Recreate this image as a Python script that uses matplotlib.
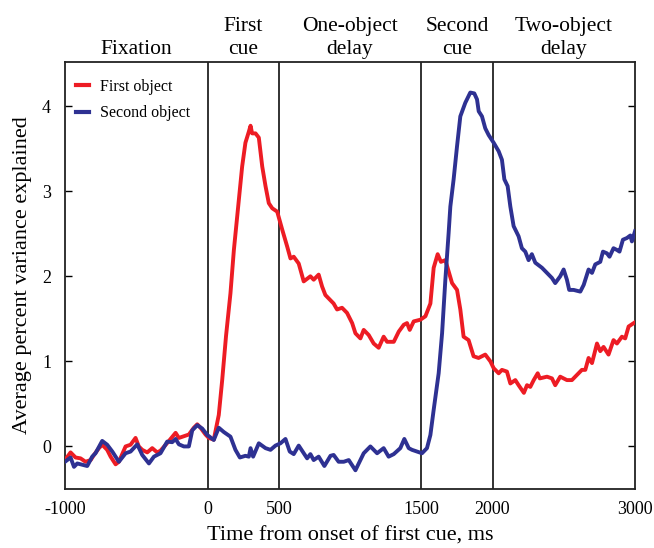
import numpy as np
import matplotlib
matplotlib.use('Agg')
import matplotlib.pyplot as plt
import matplotlib.transforms as mtransforms

# values
red_t = [-1000, -961, -926, -891, -856, -820, -797, -762, -739, -704, -680, -645, -622,
         -575, -540, -505, -482, -458, -423, -388, -353, -330, -283, -224, -201, -166,
         -131, -96, -72, -49, -14, 9, 44, 79, 103, 130, 161, 185, 220, 243, 266, 290,
         302, 313, 337, 360, 384, 407, 430, 454, 489, 524, 559, 582, 605, 640, 675, 722,
         745, 780, 804, 827, 885, 909, 944, 979, 1015, 1038, 1073, 1096, 1131, 1166,
         1201, 1236, 1260, 1307, 1342, 1377, 1400, 1419, 1447, 1494, 1529, 1564, 1587,
         1615, 1638, 1669, 1716, 1751, 1774, 1797, 1832, 1867, 1902, 1949, 1985, 2008,
         2043, 2066, 2101, 2125, 2160, 2183, 2220, 2242, 2265, 2289, 2317, 2332, 2382,
         2417, 2440, 2475, 2522, 2557, 2592, 2627, 2651, 2674, 2698, 2733, 2756, 2779,
         2814, 2849, 2873, 2908, 2931, 2955, 2990, 3000]
red_v = [-0.16, -0.07, -0.13, -0.14, -0.18, -0.16, -0.10, -0.02, 0.02, -0.04, -0.12, -0.21,
         -0.18, 0.0, 0.02, 0.10, 0.0, -0.04, -0.07, -0.02, -0.07, -0.05, 0.04, 0.16, 0.10,
         0.12, 0.14, 0.22, 0.26, 0.22, 0.14, 0.10, 0.08, 0.37, 0.78, 1.30, 1.80, 2.31, 2.90,
         3.29, 3.57, 3.70, 3.77, 3.68, 3.68, 3.63, 3.29, 3.06, 2.86, 2.80, 2.76, 2.55, 2.35,
         2.21, 2.23, 2.15, 1.94, 2.00, 1.96, 2.02, 1.88, 1.78, 1.68, 1.61, 1.63, 1.57, 1.45,
         1.33, 1.27, 1.37, 1.31, 1.21, 1.16, 1.29, 1.23, 1.23, 1.35, 1.43, 1.45, 1.37, 1.47,
         1.49, 1.53, 1.68, 2.10, 2.26, 2.17, 2.19, 1.92, 1.84, 1.61, 1.29, 1.25, 1.06, 1.04,
         1.08, 1.00, 0.92, 0.86, 0.90, 0.88, 0.74, 0.78, 0.72, 0.63, 0.72, 0.70, 0.78, 0.86,
         0.80, 0.82, 0.80, 0.72, 0.82, 0.78, 0.78, 0.84, 0.90, 0.90, 1.04, 0.98, 1.21, 1.12,
         1.17, 1.08, 1.25, 1.21, 1.29, 1.27, 1.41, 1.45, 1.46]

blue_t = [-1000, -961, -937, -914, -844, -809, -786, -739, -704, -668, -622, -575, -540,
          -493, -458, -411, -376, -330, -283, -248, -224, -201, -166, -131, -107, -72, -37,
          -2, 44, 79, 114, 161, 196, 227, 266, 290, 302, 320, 360, 407, 442, 477, 512, 547,
          577, 605, 640, 675, 699, 722, 745, 780, 820, 863, 885, 920, 956, 991, 1038, 1073,
          1096, 1143, 1190, 1236, 1271, 1307, 1353, 1381, 1412, 1435, 1470, 1505, 1540,
          1564, 1587, 1622, 1646, 1669, 1692, 1704, 1727, 1751, 1774, 1809, 1844, 1872,
          1891, 1903, 1926, 1949, 1973, 2008, 2043, 2066, 2083, 2106, 2125, 2148, 2183,
          2206, 2230, 2253, 2276, 2300, 2347, 2382, 2417, 2440, 2475, 2499, 2522, 2538,
          2569, 2616, 2640, 2674, 2698, 2721, 2756, 2775, 2803, 2821, 2849, 2873, 2891,
          2915, 2943, 2967, 2978, 3000]
blue_v = [-0.18, -0.13, -0.24, -0.20, -0.23, -0.12, -0.08, 0.065, 0.02, -0.06, -0.18, -0.08,
          -0.06, 0.025, -0.10, -0.20, -0.12, -0.08, 0.057, 0.05, 0.088, 0.025, 0.0, 0.0, 0.19,
          0.25, 0.21, 0.135, 0.076, 0.22, 0.17, 0.115, -0.04, -0.13, -0.11, -0.12, -0.02,
          -0.12, 0.037, -0.02, -0.04, 0.01, 0.037, 0.088, -0.06, -0.09, 0.01, -0.08, -0.14,
          -0.09, -0.16, -0.12, -0.23, -0.11, -0.10, -0.18, -0.18, -0.16, -0.28, -0.16, -0.08,
          0.0, -0.08, -0.02, -0.12, -0.09, -0.02, 0.088, -0.02, -0.04, -0.06, -0.08, -0.02,
          0.135, 0.43, 0.86, 1.33, 1.96, 2.51, 2.82, 3.14, 3.53, 3.88, 4.04, 4.16, 4.15, 4.08,
          3.94, 3.88, 3.74, 3.66, 3.57, 3.47, 3.37, 3.14, 3.06, 2.82, 2.59, 2.47, 2.33, 2.29,
          2.19, 2.26, 2.16, 2.10, 2.04, 1.98, 1.92, 2.00, 2.08, 1.96, 1.84, 1.84, 1.82, 1.90,
          2.08, 2.04, 2.14, 2.17, 2.29, 2.27, 2.23, 2.33, 2.31, 2.29, 2.43, 2.45, 2.48, 2.41,
          2.53]

epoch_edges = [0, 500, 1500, 2000]
epoch_names = ['Fixation', 'First\ncue', 'One-object\ndelay', 'Second\ncue', 'Two-object\ndelay']
epoch_centers = [-500, 250, 1000, 1750, 2500]
xticks = [-1000, 0, 500, 1500, 2000, 3000]
xtick_labels = ['-1000', '0', '500', '1500', '2000', '3000']
yticks = [0, 1, 2, 3, 4]

plt.rcParams['font.family'] = ['Liberation Serif', 'DejaVu Serif']

fig = plt.figure(figsize=(6.54, 5.48), dpi=100)
ax = fig.add_axes([0.0994, 0.1077, 0.8716, 0.7793])

red = '#ed1c24'
blue = '#2e3192'
ax.plot(red_t, red_v, color=red, lw=2.8, label='First object', zorder=3,
        solid_joinstyle='round')
ax.plot(blue_t, blue_v, color=blue, lw=2.8, label='Second object', zorder=3,
        solid_joinstyle='round')

for e in epoch_edges:
    ax.axvline(e, color='#222222', lw=1.3, zorder=2)

ax.set_xlim(-1000, 3000)
ax.set_ylim(-0.5, 4.52)
ax.set_xticks(xticks)
ax.set_xticklabels(xtick_labels)
ax.set_yticks(yticks)
ax.tick_params(axis='x', length=0, labelsize=13, pad=9)
ax.tick_params(axis='y', direction='in', length=5, width=1, labelsize=13,
               right=True, pad=10)
for s in ax.spines.values():
    s.set_linewidth(1.3)
    s.set_color('#222222')

ax.set_xlabel('Time from onset of first cue, ms', fontsize=16, labelpad=6)
ax.set_ylabel('Average percent variance explained', fontsize=16, labelpad=7)

# epoch names above the plot
trans = mtransforms.blended_transform_factory(ax.transData, ax.transAxes)
for c, name in zip(epoch_centers, epoch_names):
    ax.text(c, 1.008, name, transform=trans, ha='center', va='bottom',
            fontsize=15.5, linespacing=1.25)

leg = ax.legend(loc='upper left', bbox_to_anchor=(0.02, 0.96), frameon=False,
                fontsize=11.5, handlelength=0.8, handletextpad=0.7,
                labelspacing=0.65, borderpad=0, borderaxespad=0)
for h in leg.get_lines():
    h.set_linewidth(3)

fig.savefig('out.png', dpi=100)
